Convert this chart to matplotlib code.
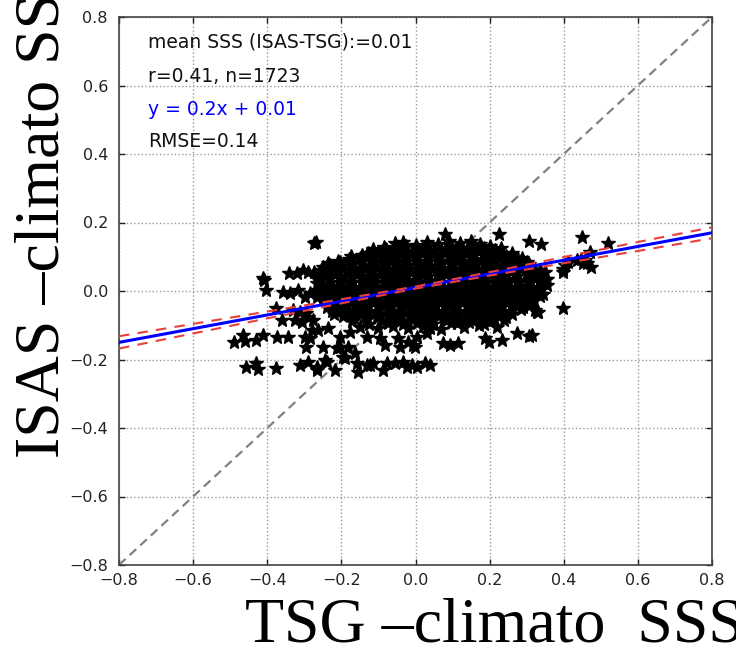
import matplotlib
matplotlib.use("Agg")
import matplotlib.pyplot as plt
import numpy as np

# ---------------- data ----------------
ticks = [-0.8, -0.6, -0.4, -0.2, 0.0, 0.2, 0.4, 0.6, 0.8]
tick_labels = ["\u22120.8", "\u22120.6", "\u22120.4", "\u22120.2", "0.0", "0.2", "0.4", "0.6", "0.8"]

stats_lines = ["mean SSS (ISAS-TSG):=0.01", "r=0.41, n=1723", "y = 0.2x + 0.01", "RMSE=0.14"]
slope = 0.2
intercept = 0.01

# confidence band around the regression line (half widths)
band_x = [-0.8, -0.6, -0.4, -0.2, 0.0, 0.2, 0.4, 0.6, 0.8]
band_hw = [0.018, 0.014, 0.010, 0.006, 0.003, 0.005, 0.009, 0.013, 0.016]

# dense core of the cloud
core_pts = [
    (-0.04, 0.128), (0.00, 0.135), (0.03, 0.142), (0.06, 0.138), (0.09, 0.145), (0.12, 0.140),
    (0.15, 0.147), (0.175, 0.138), (0.20, 0.132), (0.23, 0.125), (-0.08, 0.122),
    (-0.13, 0.108), (-0.10, 0.115), (-0.07, 0.112), (-0.04, 0.118), (-0.01, 0.113), (0.02, 0.120),
    (0.05, 0.116), (0.08, 0.121), (0.11, 0.117), (0.14, 0.122), (0.17, 0.116), (0.20, 0.114),
    (0.23, 0.110), (0.26, 0.104),
    (-0.21, 0.088), (-0.18, 0.094), (-0.15, 0.097), (-0.12, 0.092), (-0.09, 0.098), (-0.06, 0.094),
    (-0.03, 0.099), (0.00, 0.095), (0.03, 0.100), (0.06, 0.096), (0.09, 0.101), (0.12, 0.097),
    (0.15, 0.099), (0.18, 0.094), (0.21, 0.097), (0.24, 0.092), (0.27, 0.088), (0.30, 0.084),
    (-0.25, 0.070), (-0.23, 0.076), (-0.20, 0.073), (-0.17, 0.078), (-0.14, 0.074), (-0.11, 0.079),
    (-0.08, 0.075), (-0.05, 0.080), (-0.02, 0.076), (0.01, 0.078), (0.04, 0.074), (0.07, 0.079),
    (0.10, 0.075), (0.13, 0.080), (0.16, 0.076), (0.19, 0.078), (0.22, 0.073), (0.25, 0.077),
    (0.28, 0.072), (0.31, 0.068), (0.335, 0.062),
    (-0.26, 0.050), (-0.24, 0.053), (-0.21, 0.058), (-0.18, 0.054), (-0.15, 0.059), (-0.12, 0.055),
    (-0.09, 0.057), (-0.06, 0.053), (-0.03, 0.058), (0.00, 0.054), (0.03, 0.059), (0.06, 0.055),
    (0.09, 0.057), (0.12, 0.053), (0.15, 0.058), (0.18, 0.054), (0.21, 0.057), (0.24, 0.053),
    (0.27, 0.056), (0.30, 0.052), (0.33, 0.048), (0.35, 0.055),
    (-0.26, 0.033), (-0.23, 0.038), (-0.20, 0.034), (-0.17, 0.037), (-0.14, 0.033), (-0.11, 0.038),
    (-0.08, 0.034), (-0.05, 0.036), (-0.02, 0.032), (0.01, 0.037), (0.04, 0.033), (0.07, 0.038),
    (0.10, 0.034), (0.13, 0.036), (0.16, 0.032), (0.19, 0.037), (0.22, 0.033), (0.25, 0.036),
    (0.28, 0.031), (0.31, 0.035), (0.34, 0.030),
    (-0.25, 0.018), (-0.21, 0.014), (-0.18, 0.016), (-0.15, 0.012), (-0.12, 0.017), (-0.09, 0.013),
    (-0.06, 0.018), (-0.03, 0.014), (0.00, 0.016), (0.03, 0.012), (0.06, 0.017), (0.09, 0.013),
    (0.12, 0.018), (0.15, 0.014), (0.18, 0.016), (0.21, 0.012), (0.24, 0.017), (0.27, 0.013),
    (0.30, 0.016), (0.33, 0.011), (0.355, 0.018),
    (-0.25, -0.007), (-0.22, -0.002), (-0.19, -0.006), (-0.16, -0.004), (-0.13, -0.008), (-0.10, -0.003),
    (-0.07, -0.007), (-0.04, -0.002), (-0.01, -0.006), (0.02, -0.004), (0.05, -0.008), (0.08, -0.003),
    (0.11, -0.007), (0.14, -0.002), (0.17, -0.006), (0.20, -0.004), (0.23, -0.008), (0.26, -0.003),
    (0.29, -0.007), (0.32, -0.004), (0.345, -0.010),
    (-0.25, -0.023), (-0.22, -0.027), (-0.19, -0.022), (-0.16, -0.026), (-0.13, -0.024), (-0.10, -0.028),
    (-0.07, -0.023), (-0.04, -0.027), (-0.01, -0.022), (0.02, -0.026), (0.05, -0.024), (0.08, -0.028),
    (0.11, -0.023), (0.14, -0.027), (0.17, -0.022), (0.20, -0.026), (0.23, -0.024), (0.26, -0.028),
    (0.29, -0.023), (0.32, -0.027),
    (-0.24, -0.047), (-0.22, -0.043), (-0.19, -0.048), (-0.16, -0.044), (-0.13, -0.046), (-0.10, -0.042),
    (-0.07, -0.047), (-0.04, -0.043), (-0.01, -0.048), (0.02, -0.044), (0.05, -0.046), (0.08, -0.042),
    (0.11, -0.047), (0.14, -0.043), (0.17, -0.048), (0.20, -0.044), (0.23, -0.046), (0.26, -0.042),
    (0.29, -0.048), (0.31, -0.040),
    (-0.22, -0.068), (-0.19, -0.063), (-0.16, -0.067), (-0.13, -0.062), (-0.10, -0.066), (-0.07, -0.064),
    (-0.04, -0.068), (-0.01, -0.063), (0.02, -0.067), (0.05, -0.062), (0.08, -0.066), (0.11, -0.064),
    (0.14, -0.068), (0.17, -0.063), (0.20, -0.067), (0.23, -0.062), (0.26, -0.066),
    (-0.17, -0.088), (-0.13, -0.083), (-0.09, -0.087), (-0.05, -0.082), (-0.02, -0.088), (0.01, -0.084),
    (0.04, -0.089), (0.08, -0.083), (0.12, -0.087), (0.16, -0.082), (0.20, -0.088), (0.24, -0.085),
    (-0.15, -0.104), (-0.10, -0.108), (-0.06, -0.101), (-0.02, -0.107), (0.02, -0.103), (0.07, -0.110),
    (0.13, -0.105), (0.17, -0.100),
]

# more points in between, the core is solid black in the picture
core_fill_pts = [
    (-0.115, 0.124), (-0.085, 0.128), (-0.055, 0.126), (-0.025, 0.131), (0.005, 0.127), (0.035, 0.130),
    (0.065, 0.126), (0.095, 0.131), (0.125, 0.127), (0.155, 0.130), (0.185, 0.125), (0.215, 0.121),
    (-0.175, 0.101), (-0.145, 0.106), (-0.115, 0.103), (-0.085, 0.108), (-0.055, 0.104), (-0.025, 0.107),
    (0.005, 0.103), (0.035, 0.108), (0.065, 0.104), (0.095, 0.107), (0.125, 0.103), (0.155, 0.108),
    (0.185, 0.104), (0.215, 0.106), (0.245, 0.101), (0.275, 0.097),
    (-0.235, 0.081), (-0.205, 0.086), (-0.175, 0.083), (-0.145, 0.088), (-0.115, 0.084), (-0.085, 0.087),
    (-0.055, 0.083), (-0.025, 0.088), (0.005, 0.084), (0.035, 0.087), (0.065, 0.083), (0.095, 0.088),
    (0.125, 0.084), (0.155, 0.087), (0.185, 0.083), (0.215, 0.088), (0.245, 0.084), (0.275, 0.086),
    (0.305, 0.080),
    (-0.255, 0.061), (-0.225, 0.066), (-0.195, 0.063), (-0.165, 0.068), (-0.135, 0.064), (-0.105, 0.067),
    (-0.075, 0.063), (-0.045, 0.068), (-0.015, 0.064), (0.015, 0.067), (0.045, 0.063), (0.075, 0.068),
    (0.105, 0.064), (0.135, 0.067), (0.165, 0.063), (0.195, 0.068), (0.225, 0.064), (0.255, 0.067),
    (0.285, 0.063), (0.315, 0.060),
    (-0.265, 0.041), (-0.235, 0.046), (-0.205, 0.043), (-0.175, 0.048), (-0.145, 0.044), (-0.115, 0.047),
    (-0.085, 0.043), (-0.055, 0.048), (-0.025, 0.044), (0.005, 0.047), (0.035, 0.043), (0.065, 0.048),
    (0.095, 0.044), (0.125, 0.047), (0.155, 0.043), (0.185, 0.048), (0.215, 0.044), (0.245, 0.047),
    (0.275, 0.043), (0.305, 0.046), (0.335, 0.041),
    (-0.265, 0.024), (-0.235, 0.021), (-0.205, 0.026), (-0.175, 0.022), (-0.145, 0.027), (-0.115, 0.023),
    (-0.085, 0.026), (-0.055, 0.022), (-0.025, 0.027), (0.005, 0.023), (0.035, 0.026), (0.065, 0.022),
    (0.095, 0.027), (0.125, 0.023), (0.155, 0.026), (0.185, 0.022), (0.215, 0.027), (0.245, 0.023),
    (0.275, 0.026), (0.305, 0.022), (0.335, 0.025),
    (-0.265, 0.003), (-0.235, 0.008), (-0.205, 0.004), (-0.175, 0.007), (-0.145, 0.002), (-0.115, 0.006),
    (-0.085, 0.003), (-0.055, 0.008), (-0.025, 0.004), (0.005, 0.007), (0.035, 0.002), (0.065, 0.006),
    (0.095, 0.003), (0.125, 0.008), (0.155, 0.004), (0.185, 0.007), (0.215, 0.002), (0.245, 0.006),
    (0.275, 0.003), (0.305, 0.007), (0.335, 0.002),
    (-0.265, -0.017), (-0.235, -0.012), (-0.205, -0.016), (-0.175, -0.013), (-0.145, -0.018), (-0.115, -0.014),
    (-0.085, -0.017), (-0.055, -0.012), (-0.025, -0.016), (0.005, -0.013), (0.035, -0.018), (0.065, -0.014),
    (0.095, -0.017), (0.125, -0.012), (0.155, -0.016), (0.185, -0.013), (0.215, -0.018), (0.245, -0.014),
    (0.275, -0.017), (0.305, -0.012), (0.335, -0.016),
    (-0.235, -0.033), (-0.205, -0.038), (-0.175, -0.034), (-0.145, -0.037), (-0.115, -0.032), (-0.085, -0.036),
    (-0.055, -0.033), (-0.025, -0.038), (0.005, -0.034), (0.035, -0.037), (0.065, -0.032), (0.095, -0.036),
    (0.125, -0.033), (0.155, -0.038), (0.185, -0.034), (0.215, -0.037), (0.245, -0.032), (0.275, -0.036),
    (0.305, -0.031),
    (-0.225, -0.057), (-0.195, -0.052), (-0.165, -0.056), (-0.135, -0.053), (-0.105, -0.058), (-0.075, -0.054),
    (-0.045, -0.057), (-0.015, -0.052), (0.015, -0.056), (0.045, -0.053), (0.075, -0.058), (0.105, -0.054),
    (0.135, -0.057), (0.165, -0.052), (0.195, -0.056), (0.225, -0.053), (0.255, -0.057), (0.285, -0.052),
    (-0.195, -0.074), (-0.165, -0.078), (-0.135, -0.073), (-0.105, -0.077), (-0.075, -0.072), (-0.045, -0.076),
    (-0.015, -0.074), (0.015, -0.079), (0.045, -0.073), (0.075, -0.077), (0.105, -0.072), (0.135, -0.076),
    (0.165, -0.074), (0.195, -0.078), (0.225, -0.073), (0.245, -0.076),
    (-0.125, -0.096), (-0.075, -0.093), (-0.035, -0.097), (0.005, -0.092), (0.045, -0.096), (0.095, -0.094),
    (0.145, -0.091), (0.185, -0.095),
]

# scattered points around the core
outer_pts = [
    # top
    (0.080, 0.166), (0.226, 0.166), (-0.274, 0.140), (-0.268, 0.144), (-0.055, 0.139), (-0.034, 0.142),
    (-0.127, 0.110), (0.307, 0.146), (0.339, 0.137),
    # right
    (0.449, 0.159), (0.520, 0.141), (0.471, 0.115), (0.473, 0.069), (0.447, 0.093), (0.457, 0.091),
    (0.435, 0.091), (0.399, 0.063), (0.403, 0.076), (0.412, 0.086), (0.354, 0.034), (0.260, 0.110),
    (0.287, 0.095), (0.317, 0.056), (0.327, 0.047), (0.349, 0.034), (0.462, 0.081), (0.452, 0.081),
    (0.398, 0.056), (0.309, -0.021), (0.327, -0.060), (0.314, -0.128), (0.273, -0.124), (0.306, -0.131),
    (0.399, -0.051), (0.323, -0.055), (0.331, -0.060), (0.161, -0.055), (0.182, -0.044), (0.209, -0.085),
    # left
    (-0.412, 0.039), (-0.408, 0.032), (-0.404, 0.003), (-0.341, 0.052), (-0.320, 0.052), (-0.303, 0.061),
    (-0.289, 0.056), (-0.274, 0.056), (-0.357, -0.002), (-0.339, -0.007), (-0.316, 0.003), (-0.298, -0.017),
    (-0.285, -0.007), (-0.267, -0.007), (-0.376, -0.051), (-0.361, -0.085), (-0.330, -0.055),
    (-0.312, -0.060), (-0.295, -0.065), (-0.325, -0.085), (-0.307, -0.090), (-0.289, -0.075),
    (-0.276, -0.085), (-0.280, -0.114), (-0.374, -0.133), (-0.343, -0.133), (-0.298, -0.135),
    (-0.285, -0.138), (-0.295, -0.164), (-0.490, -0.150), (-0.465, -0.128), (-0.460, -0.145),
    (-0.430, -0.143), (-0.412, -0.128),
    # lower middle
    (-0.262, -0.114), (-0.235, -0.109), (-0.204, -0.133), (-0.177, -0.119), (-0.132, -0.133),
    (-0.096, -0.138), (-0.046, -0.138), (-0.082, -0.158), (-0.042, -0.163), (-0.019, -0.148),
    (-0.249, -0.163), (-0.213, -0.167), (-0.204, -0.163), (-0.181, -0.163), (-0.163, -0.182),
    (-0.196, -0.192), (0.039, -0.109), (0.030, -0.124), (0.003, -0.133), (0.075, -0.153),
    (0.093, -0.158), (0.116, -0.153), (0.188, -0.138), (0.197, -0.148), (0.233, -0.143),
    (-0.006, -0.158), (0.161, -0.080), (0.179, -0.085), (0.219, -0.104), (0.111, -0.094),
    (0.084, -0.085), (0.048, -0.085), (0.062, -0.065), (-0.001, -0.163),
    # bottom row
    (-0.457, -0.221), (-0.430, -0.211), (-0.425, -0.229), (-0.376, -0.226), (-0.312, -0.216),
    (-0.290, -0.206), (-0.266, -0.231), (-0.244, -0.201), (-0.190, -0.196), (-0.267, -0.221),
    (-0.240, -0.206), (-0.217, -0.231), (-0.159, -0.210), (-0.155, -0.236), (-0.132, -0.216),
    (-0.123, -0.216), (-0.114, -0.211), (-0.088, -0.231), (-0.078, -0.211), (-0.055, -0.211),
    (-0.034, -0.206), (-0.024, -0.221), (-0.010, -0.216), (0.003, -0.221), (0.026, -0.211),
    (0.039, -0.216),
]

# ---------------- figure ----------------
fig = plt.figure(figsize=(7.36, 6.54), dpi=100)
ax = fig.add_axes([119 / 736, 1 - 565 / 654, (712 - 119) / 736, (565 - 17) / 654])

ax.set_xlim(-0.8, 0.8)
ax.set_ylim(-0.8, 0.8)

# 1:1 line (under the points)
ax.plot([-0.8, 0.8], [-0.8, 0.8], color="#808080", lw=1.6, ls=(0, (4, 2.5)), zorder=1)

pts = core_pts + core_fill_pts + outer_pts
px = [p[0] for p in pts]
py = [p[1] for p in pts]
ax.plot(px, py, ls="none", marker="*", ms=10, color="black", mec="black", zorder=2)

# regression line and confidence band
bx = np.array(band_x)
fit = slope * bx + intercept
ax.plot(bx, fit, color="#0000ff", lw=2.2, zorder=4)
ax.plot(bx, fit + np.array(band_hw), color="#e8413c", lw=1.5, ls=(0, (5, 4)), zorder=5)
ax.plot(bx, fit - np.array(band_hw), color="#e8413c", lw=1.5, ls=(0, (5, 4)), zorder=5)

ax.set_xticks(ticks)
ax.set_xticklabels(tick_labels)
ax.set_yticks(ticks)
ax.set_yticklabels(tick_labels)
ax.tick_params(direction="in", length=4, width=1, top=True, right=True, labelsize=11.5,
               colors="#222222")
ax.tick_params(axis="y", pad=8)
ax.tick_params(axis="x", pad=6)
ax.grid(True, color="#9a9a9a", ls=":", lw=1.0)
ax.set_axisbelow(True)
for s in ax.spines.values():
    s.set_color("#444444")
    s.set_linewidth(1.2)

# statistics text
ys = [0.955, 0.892, 0.832, 0.773]
cols = ["#111111", "#111111", "#0000ff", "#111111"]
for t, yy, c in zip(stats_lines, ys, cols):
    ax.text((148 - 119) / 593, yy, t, transform=ax.transAxes, fontsize=13.5, color=c,
            ha="left", va="center", family="DejaVu Sans")

# big serif axis labels
fig.text(44 / 736, 1 - 458 / 654, "ISAS \u2013climato SSS", rotation=90, ha="center", va="bottom",
         fontsize=46, family="Liberation Serif", color="black")
fig.text(245 / 736, 1 - 641 / 654, "TSG \u2013climato  SSS", ha="left", va="baseline",
         fontsize=46, family="Liberation Serif", color="black")

fig.savefig("out.png", dpi=100)
